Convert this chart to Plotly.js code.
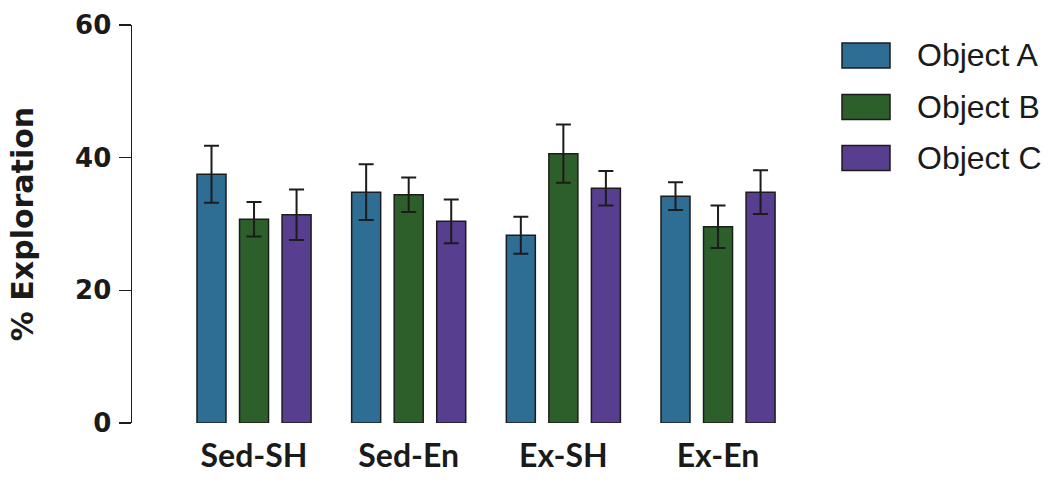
<!DOCTYPE html>
<html>
<head>
<meta charset="utf-8">
<script src="https://cdn.plot.ly/plotly-3.0.1.min.js"></script>
<style>html,body{margin:0;padding:0;background:#fff;}#chart{width:1056px;height:481px;}</style>
</head>
<body>
<div id="chart"></div>
<script>
const categories = ["Sed-SH", "Sed-En", "Ex-SH", "Ex-En"];
const seriesNames = ["Object A", "Object B", "Object C"];
const objectA = [37.5, 34.8, 28.3, 34.2];
const objectB = [30.7, 34.4, 40.6, 29.6];
const objectC = [31.4, 30.4, 35.4, 34.8];
const errA = [4.3, 4.2, 2.8, 2.1];
const errB = [2.6, 2.6, 4.4, 3.2];
const errC = [3.8, 3.3, 2.6, 3.3];
const yTicks = [0, 20, 40, 60];
const colors = ["#2e6e95", "#2d5f2b", "#573e8f"];

const values = [objectA, objectB, objectC];
const errors = [errA, errB, errC];

const traces = seriesNames.map((name, i) => ({
  type: "bar",
  name: name,
  x: categories,
  y: values[i],
  marker: { color: colors[i], line: { color: "#1c1c1c", width: 1.5 } },
  error_y: { type: "data", array: errors[i], visible: true, color: "#1c1c1c", thickness: 2, width: 7.5 },
  showlegend: false
}));

// custom legend (large swatches)
const shapes = [];
const annotations = [];
const rowY = [55.5, 107, 158];
seriesNames.forEach((name, i) => {
  shapes.push({
    type: "rect", xref: "paper", yref: "paper",
    x0: (842 - 132) / 668, x1: (890 - 132) / 668,
    y0: (423 - (rowY[i] + 12.5)) / 398, y1: (423 - (rowY[i] - 12.5)) / 398,
    fillcolor: colors[i], line: { color: "#1c1c1c", width: 1.5 }
  });
  annotations.push({
    xref: "paper", yref: "paper",
    x: (915 - 132) / 668, y: (423 - rowY[i]) / 398,
    xanchor: "left", yanchor: "middle", showarrow: false,
    text: name,
    font: { family: "Liberation Sans, Arial, sans-serif", size: 32, color: "#1a1a1a" }
  });
});

const layout = {
  width: 1056, height: 481,
  margin: { l: 132, r: 256, t: 25, b: 58 },
  paper_bgcolor: "#ffffff", plot_bgcolor: "#ffffff",
  barmode: "group", bargap: 0.175, bargroupgap: 0.318,
  xaxis: {
    range: [-0.789, 3.53], showline: false, ticks: "", showgrid: false, zeroline: false,
    ticklabelstandoff: 11,
    tickfont: { family: "Lato, Open Sans, sans-serif", size: 32, color: "#1a1a1a", weight: "bold" }
  },
  yaxis: {
    range: [0, 60], tickvals: yTicks, ticktext: yTicks.map(String),
    showline: true, linecolor: "#1c1c1c", linewidth: 1.5,
    ticks: "outside", ticklen: 12, tickwidth: 1.5, tickcolor: "#1c1c1c",
    showgrid: false, zeroline: false,
    ticklabelstandoff: 2,
    tickfont: { family: "DejaVu Sans, sans-serif", size: 26, color: "#1a1a1a", weight: "bold" },
    title: { text: "% Exploration", standoff: 32,
      font: { family: "DejaVu Sans, sans-serif", size: 30, color: "#1a1a1a", weight: "bold" } }
  },
  shapes: shapes,
  annotations: annotations
};

Plotly.newPlot("chart", traces, layout, { staticPlot: true, displayModeBar: false });
</script>
</body>
</html>
